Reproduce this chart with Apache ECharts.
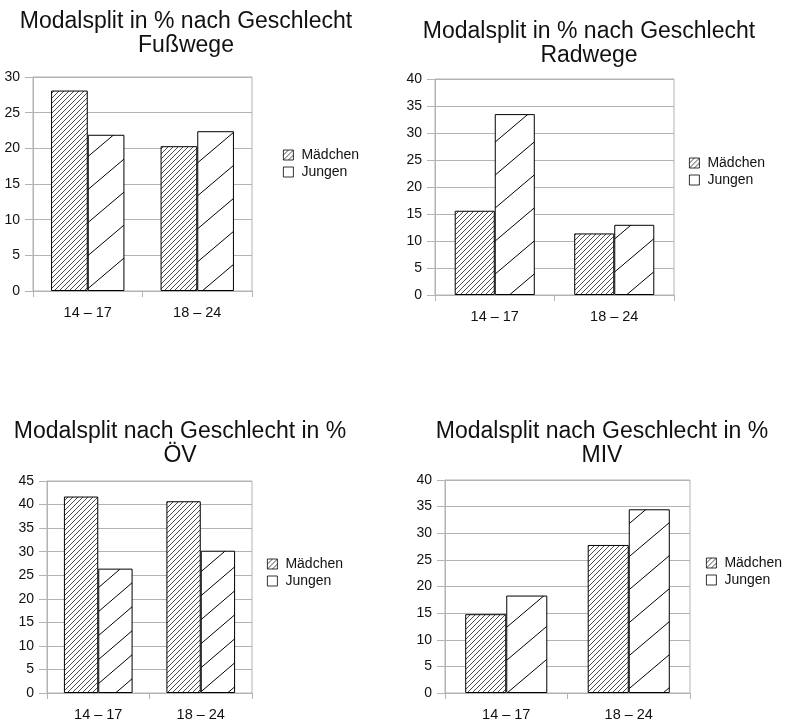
<!DOCTYPE html>
<html>
<head>
<meta charset="utf-8">
<script src="https://cdn.jsdelivr.net/npm/echarts@6/dist/echarts.min.js"></script>
<style>
html,body{margin:0;padding:0;background:#fff;}
#main{width:790px;height:722px;}
</style>
</head>
<body>
<div id="main"></div>
<script>
// ---- data ----
var categories = ['14 \u2013 17', '18 \u2013 24'];
var seriesNames = ['M\u00e4dchen', 'Jungen'];
var titleTexts = [
  'Modalsplit in % nach Geschlecht\nFu\u00dfwege',
  'Modalsplit in % nach Geschlecht\nRadwege',
  'Modalsplit nach Geschlecht in %\n\u00d6V',
  'Modalsplit nach Geschlecht in %\nMIV'
];
var fussMaedchen = [28.1, 20.3];
var fussJungen   = [21.9, 22.4];
var radMaedchen  = [15.6, 11.4];
var radJungen    = [33.5, 13.0];
var oevMaedchen  = [41.7, 40.7];
var oevJungen    = [26.4, 30.2];
var mivMaedchen  = [14.8, 27.8];
var mivJungen    = [18.3, 34.5];
var yMaxima = [30, 40, 45, 40];
var yInterval = 5;

// ---- layout (positions / styles) ----
var panels = [
  {grid:{left:33, top:77, width:219, height:214}, title:{x:186, y:10}, legend:{x:283, y:148}, sparse:[39,33], M:fussMaedchen, J:fussJungen},
  {grid:{left:435, top:79, width:239, height:216}, title:{x:589, y:20}, legend:{x:689, y:156}, sparse:[39,33], M:radMaedchen, J:radJungen},
  {grid:{left:47, top:481, width:205, height:215}, title:{x:180, y:420}, legend:{x:267, y:557}, sparse:[28,24], M:oevMaedchen, J:oevJungen},
  {grid:{left:445, top:480, width:245, height:215}, title:{x:602, y:420}, legend:{x:706, y:556}, sparse:[39,33], M:mivMaedchen, J:mivJungen}
];

function densePattern() {
  var w = 5, h = 5;
  var c = document.createElement('canvas');
  c.width = w; c.height = h;
  var ctx = c.getContext('2d');
  ctx.fillStyle = '#fff'; ctx.fillRect(0,0,w,h);
  ctx.strokeStyle = '#000'; ctx.lineWidth = 0.7;
  ctx.beginPath();
  ctx.moveTo(0,h); ctx.lineTo(w,0);
  ctx.moveTo(-1,1); ctx.lineTo(1,-1);
  ctx.moveTo(w-1,h+1); ctx.lineTo(w+1,h-1);
  ctx.stroke();
  return c;
}
function sparsePattern(w, h) {
  var c = document.createElement('canvas');
  c.width = w; c.height = h;
  var ctx = c.getContext('2d');
  ctx.fillStyle = '#fff'; ctx.fillRect(0,0,w,h);
  ctx.strokeStyle = '#000'; ctx.lineWidth = 1;
  ctx.beginPath();
  ctx.moveTo(-w,2*h); ctx.lineTo(2*w,-h);
  ctx.stroke();
  return c;
}

var FONT = 'Liberation Sans, Arial, sans-serif';
var gridColor = '#b3b3b3';
var textColor = '#111';
var dense = densePattern();

var option = {
  backgroundColor: '#fff',
  animation: false,
  title: [], legend: [], grid: [], xAxis: [], yAxis: [], series: []
};

panels.forEach(function (p, i) {
  option.title.push({
    text: titleTexts[i],
    left: p.title.x, top: p.title.y, textAlign: 'center', padding: 0,
    textStyle: {fontFamily: FONT, fontSize: 23, fontWeight: 'normal', color: textColor, lineHeight: 23.5}
  });
  option.grid.push({
    left: p.grid.left, top: p.grid.top, width: p.grid.width, height: p.grid.height,
    show: true, borderColor: gridColor, borderWidth: 1, backgroundColor: 'transparent'
  });
  option.xAxis.push({
    type: 'category', gridIndex: i, data: categories,
    axisLine: {show: true, lineStyle: {color: gridColor, width: 1}},
    axisTick: {show: true, length: 6, lineStyle: {color: gridColor}},
    axisLabel: {fontFamily: FONT, fontSize: 14.5, color: textColor, margin: 14}
  });
  option.yAxis.push({
    type: 'value', gridIndex: i, min: 0, max: yMaxima[i], interval: yInterval,
    axisLine: {show: true, lineStyle: {color: gridColor, width: 1}},
    axisTick: {show: true, length: 8, lineStyle: {color: gridColor}},
    splitLine: {show: true, lineStyle: {color: gridColor, width: 1}},
    axisLabel: {fontFamily: FONT, fontSize: 14, color: textColor, margin: 13}
  });
  var sp = sparsePattern(p.sparse[0], p.sparse[1]);
  option.series.push({
    type: 'bar', name: seriesNames[0], xAxisIndex: i, yAxisIndex: i, data: p.M,
    barGap: '0%', barCategoryGap: '33%',
    itemStyle: {color: {image: dense, repeat: 'repeat'}, borderColor: '#000', borderWidth: 1}
  });
  option.series.push({
    type: 'bar', name: seriesNames[1], xAxisIndex: i, yAxisIndex: i, data: p.J,
    barGap: '0%', barCategoryGap: '33%',
    itemStyle: {color: {image: sp, repeat: 'repeat'}, borderColor: '#000', borderWidth: 1}
  });
  option.legend.push({
    data: seriesNames, orient: 'vertical', left: p.legend.x, top: p.legend.y, padding: 0,
    itemWidth: 10, itemHeight: 10, itemGap: 3, icon: 'rect', selectedMode: false,
    itemStyle: {borderWidth: 0.8, borderColor: '#000'},
    textStyle: {fontFamily: FONT, fontSize: 14, color: textColor, padding: [0,0,0,3]}
  });
});

var chart = echarts.init(document.getElementById('main'), null, {renderer: 'canvas'});
chart.setOption(option);
</script>
</body>
</html>
